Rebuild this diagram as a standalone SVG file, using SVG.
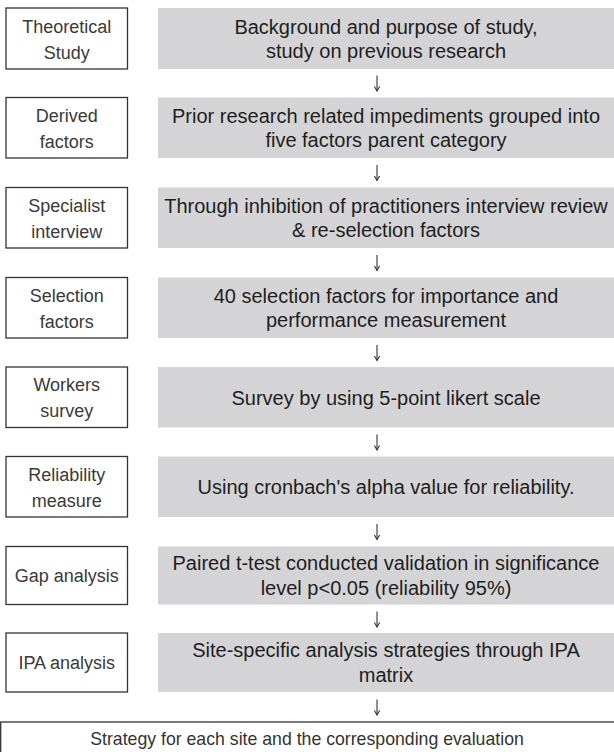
<svg xmlns="http://www.w3.org/2000/svg" width="614" height="752" viewBox="0 0 614 752">
<defs>
<style>
.lbox{fill:#ffffff;stroke:#333333;stroke-width:1.3}
.gbox{fill:#d4d4d6;stroke:none}
.lt{font-family:"Liberation Sans",Arial,sans-serif;font-size:18px;fill:#3a3a3a;text-anchor:middle}
.gt{font-family:"Liberation Sans",Arial,sans-serif;font-size:20px;fill:#1e1e1e;text-anchor:middle}
.bt{font-family:"Liberation Sans",Arial,sans-serif;font-size:17.7px;fill:#333333;text-anchor:middle}
.arr{stroke:#333333;stroke-width:1.1;fill:none}
</style>
<marker id="ah" viewBox="0 0 10 10" refX="9" refY="5" markerWidth="10" markerHeight="10" markerUnits="userSpaceOnUse" orient="auto">
<path d="M4.5,2.4 L9,5 L4.5,7.6" stroke="#333333" stroke-width="1.1" fill="none"/>
</marker>
</defs>
<rect width="614" height="752" fill="#ffffff"/>

<g id="row1">
<rect class="lbox" x="6" y="8" width="121.5" height="61"/>
<text class="lt" x="66.75" y="32.5">Theoretical</text>
<text class="lt" x="66.75" y="58.5">Study</text>
<rect class="gbox" x="158" y="8" width="456" height="61"/>
<text class="gt" x="386" y="33.5">Background and purpose of study,</text>
<text class="gt" x="386" y="57.5">study on previous research</text>
</g>

<g id="row2">
<rect class="lbox" x="6" y="97.5" width="121.5" height="60.5"/>
<text class="lt" x="66.75" y="121.75">Derived</text>
<text class="lt" x="66.75" y="147.75">factors</text>
<rect class="gbox" x="158" y="97.5" width="456" height="60.5"/>
<text class="gt" x="386" y="122.75">Prior research related impediments grouped into</text>
<text class="gt" x="386" y="146.75">five factors parent category</text>
</g>

<g id="row3">
<rect class="lbox" x="6" y="187.5" width="121.5" height="60.5"/>
<text class="lt" x="66.75" y="211.75">Specialist</text>
<text class="lt" x="66.75" y="237.75">interview</text>
<rect class="gbox" x="158" y="187.5" width="456" height="60.5"/>
<text class="gt" x="386" y="212.75">Through inhibition of practitioners interview review</text>
<text class="gt" x="386" y="236.75">&amp; re-selection factors</text>
</g>

<g id="row4">
<rect class="lbox" x="6" y="277.5" width="121.5" height="60.5"/>
<text class="lt" x="66.75" y="301.75">Selection</text>
<text class="lt" x="66.75" y="327.75">factors</text>
<rect class="gbox" x="158" y="277.5" width="456" height="60.5"/>
<text class="gt" x="386" y="302.75">40 selection factors for importance and</text>
<text class="gt" x="386" y="326.75">performance measurement</text>
</g>

<g id="row5">
<rect class="lbox" x="6" y="367" width="121.5" height="60.5"/>
<text class="lt" x="66.75" y="391.25">Workers</text>
<text class="lt" x="66.75" y="417.25">survey</text>
<rect class="gbox" x="158" y="367" width="456" height="60.5"/>
<text class="gt" x="386" y="404.75">Survey by using 5-point likert scale</text>
</g>

<g id="row6">
<rect class="lbox" x="6" y="456.5" width="121.5" height="60.5"/>
<text class="lt" x="66.75" y="480.75">Reliability</text>
<text class="lt" x="66.75" y="506.75">measure</text>
<rect class="gbox" x="158" y="456.5" width="456" height="60.5"/>
<text class="gt" x="386" y="493.75">Using cronbach's alpha value for reliability.</text>
</g>

<g id="row7">
<rect class="lbox" x="6" y="546.5" width="121.5" height="58"/>
<text class="lt" x="66.75" y="582">Gap analysis</text>
<rect class="gbox" x="158" y="546.5" width="456" height="58"/>
<text class="gt" x="386" y="570">Paired t-test conducted validation in significance</text>
<text class="gt" x="386" y="595">level p&lt;0.05 (reliability 95%)</text>
</g>

<g id="row8">
<rect class="lbox" x="6" y="633" width="121.5" height="59"/>
<text class="lt" x="66.75" y="669">IPA analysis</text>
<rect class="gbox" x="158" y="633" width="456" height="59"/>
<text class="gt" x="386" y="657">Site-specific analysis strategies through IPA</text>
<text class="gt" x="386" y="681.5">matrix</text>
</g>

<g id="result">
<rect class="lbox" x="0.7" y="722" width="620" height="40"/>
<text class="bt" x="307" y="745">Strategy for each site and the corresponding evaluation</text>
</g>

<g id="connectors">
<path class="arr" d="M377,75.5 V91" marker-end="url(#ah)"/>
<path class="arr" d="M377,165 V180.5" marker-end="url(#ah)"/>
<path class="arr" d="M377,255 V270.5" marker-end="url(#ah)"/>
<path class="arr" d="M377,345 V360.5" marker-end="url(#ah)"/>
<path class="arr" d="M377,434.5 V450" marker-end="url(#ah)"/>
<path class="arr" d="M377,524 V539.5" marker-end="url(#ah)"/>
<path class="arr" d="M377,611.5 V627" marker-end="url(#ah)"/>
<path class="arr" d="M377,699.5 V715" marker-end="url(#ah)"/>
</g>
</svg>
